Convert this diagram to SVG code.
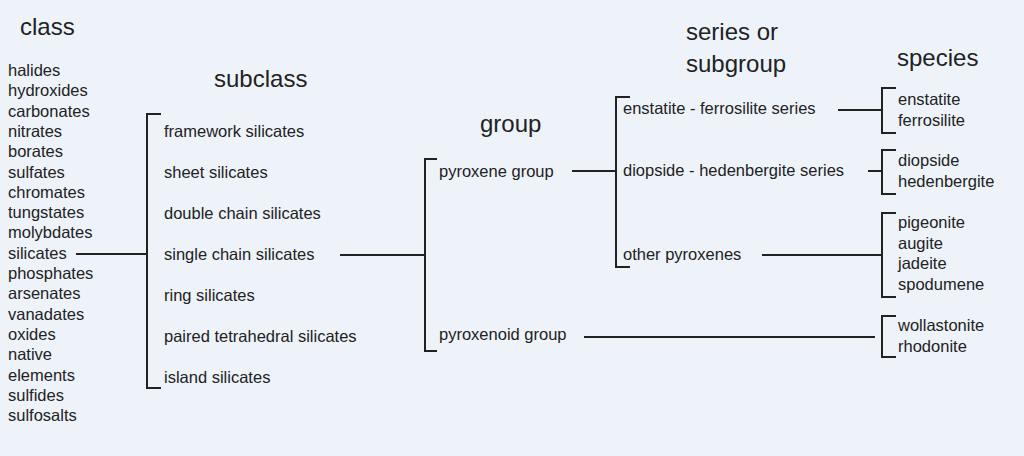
<svg xmlns="http://www.w3.org/2000/svg" width="1024" height="456" viewBox="0 0 1024 456">
<style>
text{font-family:"Liberation Sans",Arial,sans-serif;fill:#222;font-size:16.5px}
.t{font-size:24px}
.c path,.c line{stroke:#222;stroke-width:2;fill:none}
</style>
<rect width="1024" height="456" fill="#eef3fa"/>
<g id="titles">
<text class="t" x="20" y="35">class</text>
<text class="t" x="214" y="87">subclass</text>
<text class="t" x="480" y="132">group</text>
<text class="t" x="686" y="40">series or</text>
<text class="t" x="686" y="72">subgroup</text>
<text class="t" x="897" y="66">species</text>
</g>
<g id="classes">
<text x="8" y="76">halides</text><text x="8" y="96.3">hydroxides</text><text x="8" y="116.6">carbonates</text><text x="8" y="136.9">nitrates</text><text x="8" y="157.2">borates</text><text x="8" y="177.5">sulfates</text><text x="8" y="197.8">chromates</text><text x="8" y="218.1">tungstates</text><text x="8" y="238.4">molybdates</text><text x="8" y="258.7">silicates</text><text x="8" y="279">phosphates</text><text x="8" y="299.3">arsenates</text><text x="8" y="319.6">vanadates</text><text x="8" y="339.9">oxides</text><text x="8" y="360.2">native</text><text x="8" y="380.5">elements</text><text x="8" y="400.8">sulfides</text><text x="8" y="421.1">sulfosalts</text>
</g>
<g id="subclasses">
<text x="164" y="137">framework silicates</text><text x="164" y="178">sheet silicates</text><text x="164" y="219">double chain silicates</text><text x="164" y="260">single chain silicates</text><text x="164" y="301">ring silicates</text><text x="164" y="342">paired tetrahedral silicates</text><text x="164" y="383">island silicates</text>
</g>
<g id="groups">
<text x="439" y="177">pyroxene group</text><text x="439" y="340">pyroxenoid group</text>
</g>
<g id="series">
<text x="623" y="114">enstatite - ferrosilite series</text><text x="623" y="176">diopside - hedenbergite series</text><text x="623" y="260">other pyroxenes</text>
</g>
<g id="species">
<text x="898" y="105">enstatite</text><text x="898" y="126">ferrosilite</text>
<text x="898" y="166">diopside</text><text x="898" y="187">hedenbergite</text>
<text x="898" y="228">pigeonite</text><text x="898" y="249">augite</text><text x="898" y="269">jadeite</text><text x="898" y="290">spodumene</text>
<text x="898" y="331">wollastonite</text><text x="898" y="352">rhodonite</text>
</g>
<g id="connectors" class="c">
<line x1="76" y1="254" x2="147" y2="254"/>
<path d="M161 114H147V388H161"/>
<line x1="340" y1="255" x2="425" y2="255"/>
<path d="M437 159H425V351H437"/>
<line x1="572" y1="171" x2="616" y2="171"/>
<path d="M630 97H616V267H630"/>
<line x1="838" y1="110" x2="882" y2="110"/>
<line x1="868" y1="171" x2="882" y2="171"/>
<line x1="762" y1="255" x2="882" y2="255"/>
<line x1="584" y1="337" x2="875" y2="337"/>
<path d="M896 88H882V133H896"/>
<path d="M896 150H882V194H896"/>
<path d="M896 213H882V297H896"/>
<path d="M896 316H882V357H896"/>
</g>
</svg>
